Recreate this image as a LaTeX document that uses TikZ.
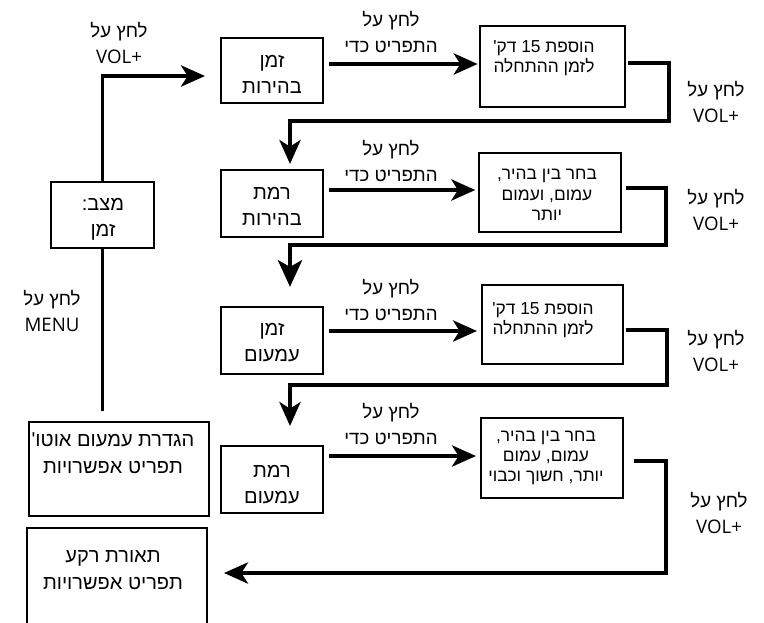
\documentclass[tikz,border=0pt]{standalone}
\usepackage{fontspec}
\setmainfont{Liberation Sans}
\newfontfamily\heb[Script=Hebrew]{Liberation Sans}
\newfontfamily\lat{Open Sans}
\TeXXeTstate=1
\usetikzlibrary{arrows.meta,calc,fit}
\newcommand\hR[1]{{\heb\beginR #1\endR}}
\begin{document}
\begin{tikzpicture}[x=0.75pt,y=-0.75pt,
  box/.style={draw, line width=1.6pt, inner sep=0pt},
  conn/.style={line width=2.3pt},
  thickconn/.style={line width=3.6pt},
  arr/.style={conn, -{Stealth[length=18pt,width=16pt,inset=5pt]}},
  lbl/.style={align=center, inner sep=0pt, font=\fontsize{14}{19.5}\selectfont},
  lft/.style={align=center, inner sep=0pt, font=\fontsize{15}{19.5}\selectfont},
  rgt/.style={align=center, inner sep=0pt, font=\fontsize{13}{15.2}\selectfont},
  big/.style={align=center, inner sep=0pt, font=\fontsize{15}{20}\selectfont}]
\useasboundingbox (0,0) rectangle (764,622);
\clip (0,0) rectangle (764,622);
% boxes
\node[box, fit={(51,182) (154,248)}] (M) {};
\node[box, fit={(221,38) (323,103)}] (A) {};
\node[box, fit={(480,26) (625,107)}] (B) {};
\node[box, fit={(221,170) (323,237)}] (C) {};
\node[box, fit={(479,153) (621,232)}] (D) {};
\node[box, fit={(221,307) (323,374)}] (E) {};
\node[box, fit={(482,285) (623,364)}] (F) {};
\node[box, fit={(221,446) (323,513)}] (G) {};
\node[box, fit={(481,418) (623,498)}] (H) {};
\node[box, fit={(29,422) (209,516)}] (I) {};
\node[box, fit={(27,528) (207,640)}] (J) {};
% box texts
\node[lft] (tM) at (103,219.5) {\hR{מצב:}\\\hR{זמן}};
\node[lft] (tA) at (272,74.5) {\hR{זמן}\\\hR{בהירות}};
\node[lft] (tC) at (272,206.5) {\hR{רמת}\\\hR{בהירות}};
\node[lft] (tE) at (272,342.5) {\hR{זמן}\\\hR{עמעום}};
\node[lft] (tG) at (272,484.5) {\hR{רמת}\\\hR{עמעום}};
\node[rgt] (tB) at (544,58) {\hR{הוספת 15 דק'}\\\hR{לזמן ההתחלה}};
\node[rgt] (tD) at (547,195) {\hR{בחר בין בהיר,}\\\hR{עמום, ועמום}\\\hR{יותר}};
\node[rgt] (tF) at (543,320) {\hR{הוספת 15 דק'}\\\hR{לזמן ההתחלה}};
\node[rgt] (tH) at (546,458) {\hR{בחר בין בהיר,}\\\hR{עמום, עמום}\\\hR{יותר, חשוך וכבוי}};
\node[big] (tI) at (113,453.5) {\hR{הגדרת עמעום אוטו'}\\\hR{תפריט אפשרויות}};
\node[big] (tJ) at (113,570) {\hR{תאורת רקע}\\\hR{תפריט אפשרויות}};
% labels
\node[lbl] (l0) at (119,43) {\hR{לחץ על}\\{\lat VOL+}};
\node[lbl] (lm) at (52,311) {\hR{לחץ על}\\{\lat MENU}};
\node[lbl] (p1) at (391,32) {\hR{לחץ על}\\\hR{התפריט כדי}};
\node[lbl] (p2) at (391,161) {\hR{לחץ על}\\\hR{התפריט כדי}};
\node[lbl] (p3) at (391,300) {\hR{לחץ על}\\\hR{התפריט כדי}};
\node[lbl] (p4) at (391,424) {\hR{לחץ על}\\\hR{התפריט כדי}};
\node[lbl] (v1) at (716,102) {\hR{לחץ על}\\{\lat VOL+}};
\node[lbl] (v2) at (716,210) {\hR{לחץ על}\\{\lat VOL+}};
\node[lbl] (v3) at (716,351) {\hR{לחץ על}\\{\lat VOL+}};
\node[lbl] (v4) at (719,513) {\hR{לחץ על}\\{\lat VOL+}};
% connectors
\draw[arr] (M.north) |- ($(A.west)+(-15,5.5)$);
\draw[conn, shorten >=7.5pt] (M.south) -- (M.south |- I.north);
\coordinate (a1) at ($(A.east)+(5,-6.5)$);
\draw[arr, shorten >=1pt] (a1) -- (a1 -| B.west);
\coordinate (c1) at ($(C.east)+(5,-13.5)$);
\draw[arr, shorten >=2pt] (c1) -- (c1 -| D.west);
\coordinate (e1) at ($(E.east)+(5,-9.5)$);
\draw[arr, shorten >=3pt] (e1) -- (e1 -| F.west);
\coordinate (g1) at ($(G.east)+(5,-23.5)$);
\draw[arr, shorten >=3pt] (g1) -- (g1 -| H.west);
\coordinate (b1) at (669,121);
\draw[arr] ($(B.east)+(2,-3.5)$) -| (b1) -| ($(C.north)+(18,-5)$);
\coordinate (d1) at (666,245);
\draw[thickconn, -{Stealth[length=20pt,width=18pt,inset=5pt]}] ($(D.east)+(4,-4.5)$) -| (d1) -| ($(E.north)+(18,-19)$);
\coordinate (f1) at (667,385);
\draw[arr] ($(F.east)+(2,5.5)$) -| (f1) -| ($(G.north)+(18,-19)$);
\coordinate (h1) at (666,573);
\draw[arr] ($(H.east)+(10,3)$) -| (h1) -- ($(J.east)+(16,-11)$);
\end{tikzpicture}
\end{document}
